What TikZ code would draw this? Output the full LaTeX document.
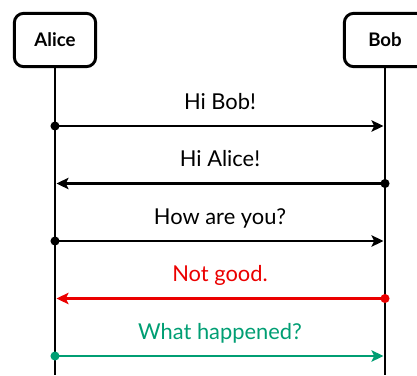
\documentclass[tikz,border=0pt]{standalone}
\usepackage{fontspec}
\setmainfont{Lato}
\usetikzlibrary{arrows.meta}
\definecolor{msgred}{RGB}{235,0,0}
\definecolor{msggreen}{RGB}{0,158,115}

\begin{document}
\begin{tikzpicture}[x=0.75pt,y=-0.75pt,
   actor/.style={draw,line width=2.2pt,rounded corners=7pt,fill=white,
     minimum width=61pt,minimum height=40pt,font=\fontsize{14}{16}\selectfont\bfseries},
   life/.style={line width=2.2pt},
   msg/.style={line width=2.2pt,shorten >=1.1pt,-{Stealth[length=9pt,width=8.5pt,inset=2pt]}},
   txt/.style={font=\fontsize{16.4}{19}\selectfont,anchor=base,yshift=12.75pt}]
   \useasboundingbox (0,0) rectangle (417,375);
   % lifelines
   \coordinate (aend) at (55,375);
   \coordinate (bend) at (385,375);
   \draw [life] (55,40) -- (aend);
   \draw [life] (385,40) -- (bend);
   \node [actor] (alice) at (55,40) {Alice};
   \node [actor] (bob) at (385,40) {Bob};
   \foreach \i/\y in {1/126,2/183.5,3/241,4/298.5,5/356} {
     \coordinate (a\i) at (55,\y);
     \coordinate (b\i) at (385,\y);
   }
   % messages
   \draw [msg] (a1) -- node [txt] {Hi Bob!} (b1);
   \fill (a1) circle (3.4pt);
   \draw [msg] (b2) -- node [txt] {Hi Alice!} (a2);
   \fill (b2) circle (3.4pt);
   \draw [msg] (a3) -- node [txt] {How are you?} (b3);
   \fill (a3) circle (3.4pt);
   \draw [msg,msgred] (b4) -- node [txt] {Not good.} (a4);
   \fill [msgred] (b4) circle (3.4pt);
   \draw [msg,msggreen] (a5) -- node [txt] {What happened?} (b5);
   \fill [msggreen] (a5) circle (3.4pt);
\end{tikzpicture}
\end{document}
